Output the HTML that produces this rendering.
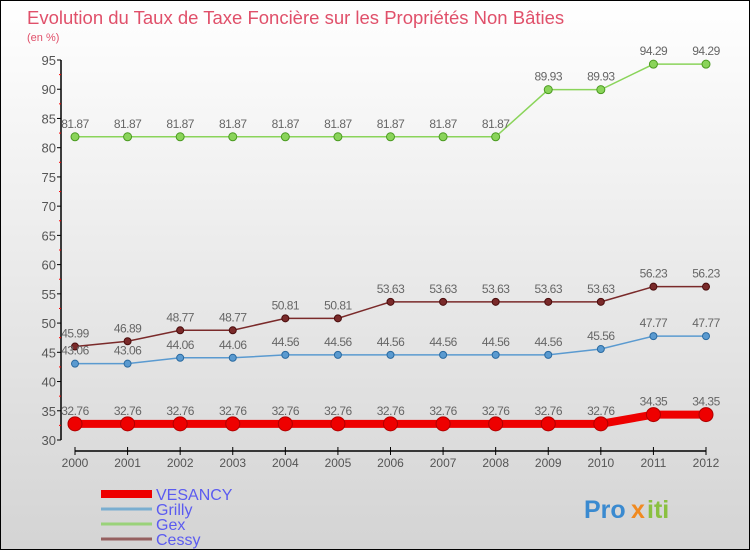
<!DOCTYPE html>
<html><head><meta charset="utf-8"><style>
body{margin:0}
#c{position:relative;width:748px;height:548px;border:1px solid #000;background:linear-gradient(#ffffff,#d4d4d4);font-family:"Liberation Sans",sans-serif;overflow:hidden}
</style></head><body>
<div id="c">
<svg id="s" width="748" height="548"></svg>
</div>
<script>
const years=["2000","2001","2002","2003","2004","2005","2006","2007","2008","2009","2010","2011","2012"];
const vesancy=[32.76,32.76,32.76,32.76,32.76,32.76,32.76,32.76,32.76,32.76,32.76,34.35,34.35];
const grilly=[43.06,43.06,44.06,44.06,44.56,44.56,44.56,44.56,44.56,44.56,45.56,47.77,47.77];
const gex=[81.87,81.87,81.87,81.87,81.87,81.87,81.87,81.87,81.87,89.93,89.93,94.29,94.29];
const cessy=[45.99,46.89,48.77,48.77,50.81,50.81,53.63,53.63,53.63,53.63,53.63,56.23,56.23];
const yTicks=[30,35,40,45,50,55,60,65,70,75,80,85,90,95];
const NS="http://www.w3.org/2000/svg";
const s=document.getElementById('s');
const X=i=>74+i*(705-74)/12;
const Y=v=>439-(v-30)*(380/65);
function el(t,a,txt){const e=document.createElementNS(NS,t);for(const k in a)e.setAttribute(k,a[k]);if(txt!==undefined)e.textContent=txt;s.appendChild(e);return e;}
let t=el('text',{x:26,y:23,fill:'#e0506a','font-size':18.5},'Evolution du Taux de Taxe Foncière sur les Propriétés Non Bâties');


t=el('text',{x:26,y:40,fill:'#e0506a','font-size':11},'(en %)');


let a=el('line',{x1:60,y1:Y(95),x2:60,y2:Y(30),stroke:'#000','stroke-width':1.5});


yTicks.forEach((v,i)=>{
 el('line',{x1:56,x2:60,y1:Y(v),y2:Y(v),stroke:'#000'});
 if(i<yTicks.length-1)el('line',{x1:58,x2:60,y1:Y(v+2.5),y2:Y(v+2.5),stroke:'#f00'});
 const l=el('text',{x:55,y:Y(v)+5,'text-anchor':'end','font-size':13,fill:'#555'},String(v));
 
 
});
a=el('line',{x1:X(0),x2:X(12),y1:450,y2:450,stroke:'#000','stroke-width':1.5});


years.forEach((y,i)=>{
 el('line',{x1:X(i),x2:X(i),y1:446,y2:454,stroke:'#000'});
 const l=el('text',{x:X(i),y:466,'text-anchor':'middle','font-size':12,fill:'#555'},y);
 
 
});
function series(d,col,dark,w,r,name){
 const p=el('polyline',{points:d.map((v,i)=>X(i)+','+Y(v)).join(' '),fill:'none',stroke:col,'stroke-width':w});
 
 
 d.forEach((v,i)=>{
  const c=el('circle',{cx:X(i),cy:Y(v),r:r,fill:col,stroke:dark,'stroke-width':1});
  
  
  const l=el('text',{x:X(i),y:Y(v)-9,'text-anchor':'middle','font-size':12,fill:'#666','letter-spacing':'-0.5'},v.toFixed(2));
  
  
 });
}
series(gex,'#8ad45a','#4a9a20',1.5,4,'gex');
series(cessy,'#7a2a2a','#4a0d0d',1.5,3.5,'cessy');
series(grilly,'#5a9ad0','#2a6aa0',1.5,3.5,'grilly');
series(vesancy,'#ee0000','#b00000',8,7,'vesancy');
const leg=[["VESANCY","#ee0000",8],["Grilly","#7aaed0",3],["Gex","#9ad27a",3],["Cessy","#956060",3]];
leg.forEach((l,i)=>{
 const y=493+i*15;
 const ln=el('line',{x1:100,x2:151,y1:y,y2:y,stroke:l[1],'stroke-width':l[2]});
 
 
 const tx=el('text',{x:155,y:y+6,'font-size':16,fill:'#5b5bf0'},l[0]);
 
 
});
const logo=el('text',{x:583,y:517,'font-size':25,'font-weight':'bold',fill:'#3a8ad0'},'Pro');


const lx=el('text',{x:630,y:517,'font-size':25,'font-weight':'bold',fill:'#f08a20'},'x');


const li=el('text',{x:646,y:517,'font-size':25,'font-weight':'bold',fill:'#8ac040'},'iti');


</script>
</body></html>
